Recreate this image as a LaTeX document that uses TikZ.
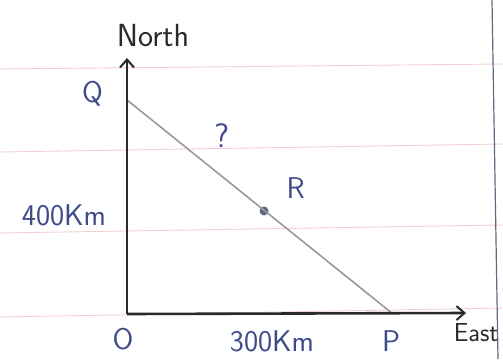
\documentclass[tikz,border=0pt]{standalone}
\usepackage{tikz}
\usetikzlibrary{positioning,arrows.meta}

\definecolor{penblue}{RGB}{62,74,138}
\definecolor{pencil}{RGB}{40,42,46}
\definecolor{ruleline}{RGB}{240,208,208}
\definecolor{marginline}{RGB}{96,104,132}

\tikzset{
  lbl/.style={font=\sffamily\fontsize{30}{34}\selectfont, text=penblue, inner sep=0pt},
  axislbl/.style={font=\sffamily\fontsize{32}{36}\selectfont, text=pencil, inner sep=0pt},
  axisline/.style={draw=pencil, line width=2.6pt, -{Straight Barb[length=8pt,width=14pt,line width=2pt]}},
  path/.style={draw=gray!80, line width=1.6pt},
}

\begin{document}
\begin{tikzpicture}[x=1pt, y=-1pt]
        \useasboundingbox (0,0) rectangle (503,359);

        % ruled paper
        \draw[ruleline, line width=0.9pt] (0,69) -- (503,64);
        \draw[ruleline, line width=0.9pt] (0,152) -- (503,144);
        \draw[ruleline, line width=0.9pt] (0,233) -- (503,225);
        \draw[ruleline, line width=0.9pt] (0,317) -- (503,308);
        \draw[marginline, line width=1.2pt] (492,0) -- (498,359);

        \coordinate (O) at (127,314);
        \coordinate (Q) at (127,100);
        \coordinate (P) at (393,314);
        \coordinate (N) at (127,58);
        \coordinate (E) at (466,313);
        \node[circle, fill=marginline, inner sep=0pt, minimum size=9pt] (R) at (264,211) {};

        \draw[path] (Q) -- (P);
        \draw[axisline] (O) -- (N);
        \draw[axisline] (O) -- (E);

        \node[axislbl, above=11pt of N, xshift=26pt] (north) {North};
        \node[axislbl, font=\sffamily\fontsize{26}{30}\selectfont, below=10pt of E, xshift=10pt] (east) {East};

        \node[lbl, left=24pt of Q, yshift=6pt] (qlab) {Q};
        \node[lbl, below=14pt of O, xshift=-4pt] (olab) {O};
        \node[lbl, below=16pt of P, xshift=-2pt] (plab) {P};
        \node[lbl, above right=9pt and 19pt of R] (rlab) {R};
        \node[lbl, font=\sffamily\fontsize{34}{38}\selectfont] (ask) at (222,136) {?};
        \node[lbl] (dy) at (64,215) {400Km};
        \node[lbl] (dx) at (272,341) {300Km};

    \end{tikzpicture}
\end{document}
